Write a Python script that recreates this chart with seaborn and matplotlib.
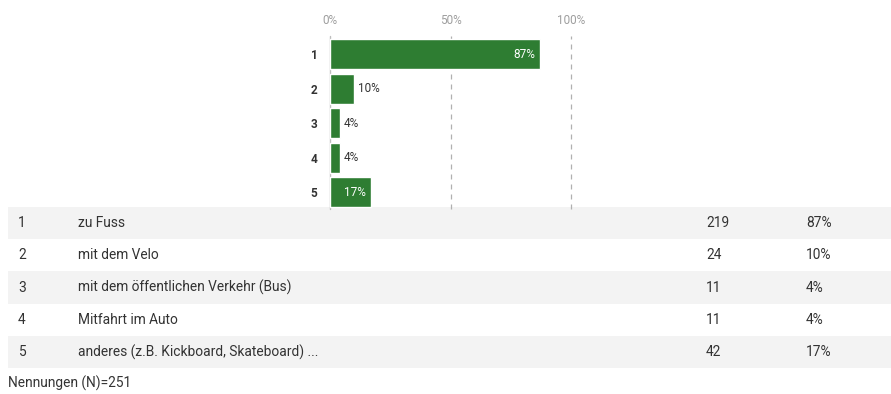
import matplotlib
matplotlib.use("Agg")
import matplotlib.pyplot as plt
import seaborn as sns
import pandas as pd
from matplotlib.patches import Rectangle

codes = ["1", "2", "3", "4", "5"]
answers = ["zu Fuss", "mit dem Velo", "mit dem öffentlichen Verkehr (Bus)",
           "Mitfahrt im Auto", "anderes (z.B. Kickboard, Skateboard) ..."]
counts = [219, 24, 11, 11, 42]
percents = [87, 10, 4, 4, 17]
x_ticks = [0, 50, 100]
x_tick_labels = ["0%", "50%", "100%"]
total_n = 251

sns.set_theme(style="white")
plt.rcParams["font.family"] = ["Roboto", "DejaVu Sans"]

W, H = 891, 394
fig = plt.figure(figsize=(W / 100, H / 100), dpi=100)

# background table axes in pixel coords
tab = fig.add_axes([0, 0, 1, 1])
tab.set_xlim(0, W)
tab.set_ylim(H, 0)
tab.axis("off")

row_top = 207
row_h = 32.2
for i, (c, a, n, p) in enumerate(zip(codes, answers, counts, percents)):
    y0 = row_top + i * row_h
    if i % 2 == 0:
        tab.add_patch(Rectangle((8, y0), W - 8, row_h, facecolor="#f3f3f3", edgecolor="none"))
    yc = y0 + row_h / 2
    kw = dict(va="center", ha="left", fontsize=9.9, color="#333333")
    tab.text(18, yc, c, **kw)
    tab.text(78, yc, a, **kw)
    tab.text(706, yc, str(n), **kw)
    tab.text(806, yc, f"{p}%", **kw)
tab.text(8, 383, f"Nennungen (N)={total_n}", va="center", ha="left", fontsize=9.9, color="#333333")

# bar chart axes
top, bottom = 35.5, 209.25
ax = fig.add_axes([330 / W, (H - bottom) / H, 241 / W, (bottom - top) / H])
ax.patch.set_alpha(0)
df = pd.DataFrame({"code": codes, "pct": percents})
sns.barplot(data=df, y="code", x="pct", orient="h", color="#2E7D32",
            saturation=1, width=0.87, ax=ax, zorder=3)
ax.set_xlim(0, 100)
ax.set_ylim(4.5, -0.55)
for s in ax.spines.values():
    s.set_visible(False)
ax.xaxis.tick_top()
ax.set_xticks(x_ticks)
ax.set_xticklabels(x_tick_labels, fontsize=8.5, color="#9e9e9e")
ax.tick_params(axis="x", length=0, pad=6)
ax.tick_params(axis="y", length=0, pad=9)
for lbl in ax.get_yticklabels():
    lbl.set_fontweight("bold")
    lbl.set_fontsize(8.5)
    lbl.set_color("#333333")
ax.set_xlabel("")
ax.set_ylabel("")
ax.axvline(0, color="#bdbdbd", lw=1, zorder=1, clip_on=False)
for xv in [50, 100]:
    ax.axvline(xv, color="#b0b0b0", lw=0.9, ls=(0, (4, 4)), zorder=1, clip_on=False)
for i, p in enumerate(percents):
    if p >= 15:
        ax.text(p - 2, i, f"{p}%", ha="right", va="center", fontsize=8.5, color="white", zorder=4)
    else:
        ax.text(p + 1.5, i, f"{p}%", ha="left", va="center", fontsize=8.5, color="#333333", zorder=4)

fig.savefig("out.png", dpi=100)
